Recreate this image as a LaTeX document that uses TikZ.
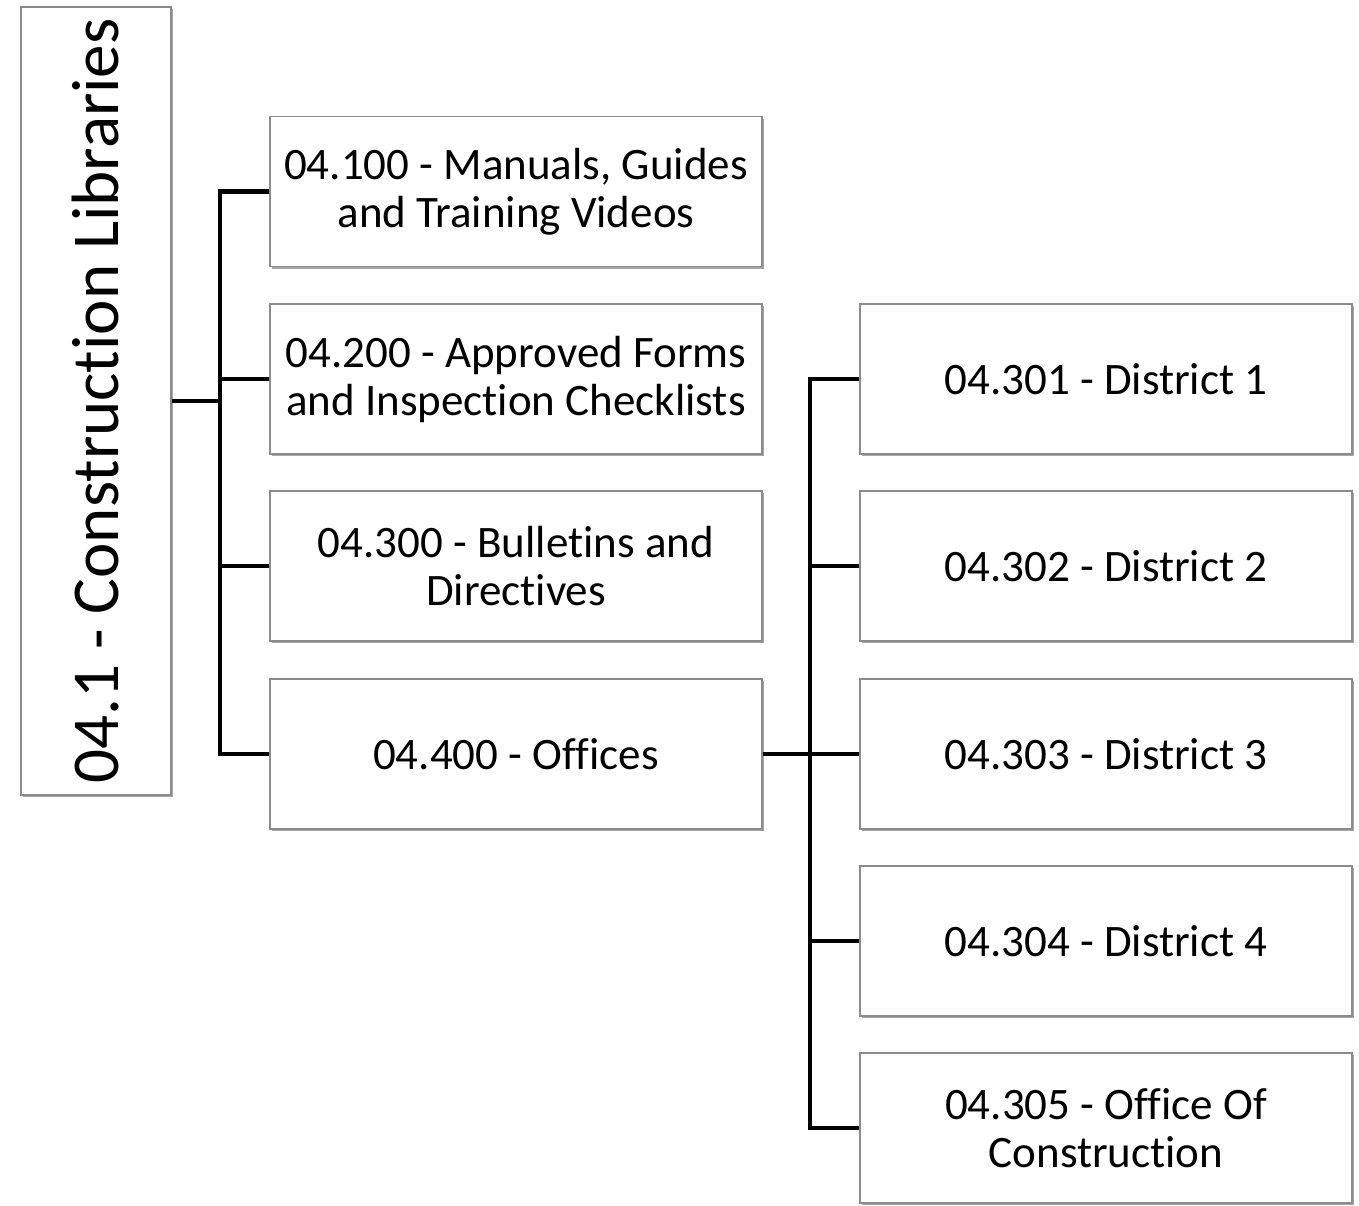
\documentclass[tikz,border=0pt]{standalone}
\usepackage{fontspec}
\setmainfont{Carlito}[Ligatures=CommonOff]
\usetikzlibrary{shadows}
\definecolor{boxline}{HTML}{8C8C8C}
\begin{document}
\begin{tikzpicture}[x=1pt,y=-1pt,
  card/.style={draw=boxline, line width=1.3pt, fill=white,
    minimum width=492pt, minimum height=150pt, inner sep=0pt,
    align=center, font=\fontsize{45}{48}\selectfont,
    drop shadow={shadow xshift=2pt, shadow yshift=-2pt, fill=black, opacity=0.35}},
  rootcard/.style={draw=boxline, line width=1.3pt, fill=white,
    minimum width=788pt, minimum height=150pt, inner sep=0pt,
    rotate=90, font=\fontsize{67}{72}\selectfont,
    drop shadow={shadow xshift=2pt, shadow yshift=-2pt, fill=black, opacity=0.35}},
  link/.style={line width=4.5pt, black, line join=miter}]
\useasboundingbox (0,0) rectangle (1359,1205);

% root, rotated
\node[rootcard] (root) at (96,401) {04.1 - Construction Libraries};

% first level
\node[card] (b1) at (516,191.5) {04.100 - Manuals, Guides\\and Training Videos};
\node[card] (b2) at (516,379) {04.200 - Approved Forms\\and Inspection Checklists};
\node[card] (b3) at (516,566) {04.300 - Bulletins and\\Directives};
\node[card] (b4) at (516,754) {04.400 - Offices};

% offices
\node[card] (d1) at (1106,379) {04.301 - District 1};
\node[card] (d2) at (1106,566) {04.302 - District 2};
\node[card] (d3) at (1106,754) {04.303 - District 3};
\node[card] (d4) at (1106,941) {04.304 - District 4};
\node[card] (d5) at (1106,1128) {04.305 - Office Of\\Construction};

% connectors
\coordinate (bus1) at (220,401);
\coordinate (bus2) at (810,754);
\draw[link] (root.south) -- (bus1);
\foreach \n in {b1,b2,b3,b4} \draw[link] (\n.west) -| (bus1);
\draw[link] (b4.east) -- (bus2);
\foreach \n in {d1,d2,d3,d4,d5} \draw[link] (\n.west) -| (bus2);
\end{tikzpicture}
\end{document}
